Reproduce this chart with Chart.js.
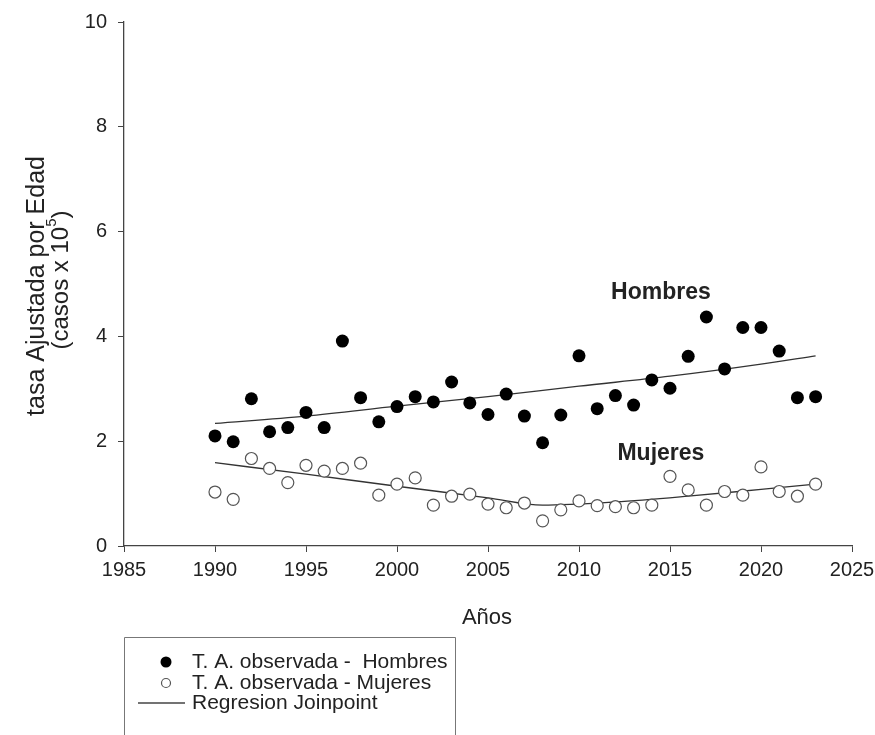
<!DOCTYPE html>
<html>
<head>
<meta charset="utf-8">
<script src="https://cdn.jsdelivr.net/npm/chart.js@4"></script>
<style>
  html, body { margin: 0; padding: 0; background: #fff; }
  #wrap { width: 875px; height: 735px; position: relative; }
</style>
</head>
<body>
<div id="wrap"><canvas id="chart" width="875" height="735"></canvas></div>
<script>
// observed age-adjusted rates, per year
const years = [1990, 1991, 1992, 1993, 1994, 1995, 1996, 1997, 1998, 1999,
  2000, 2001, 2002, 2003, 2004, 2005, 2006, 2007, 2008, 2009,
  2010, 2011, 2012, 2013, 2014, 2015, 2016, 2017, 2018, 2019,
  2020, 2021, 2022, 2023];
const hombres = [2.10, 1.99, 2.81, 2.18, 2.26, 2.55, 2.26, 3.91, 2.83, 2.37,
  2.66, 2.85, 2.75, 3.13, 2.73, 2.51, 2.90, 2.48, 1.97, 2.50,
  3.63, 2.62, 2.87, 2.69, 3.17, 3.01, 3.62, 4.37, 3.38, 4.17,
  4.17, 3.72, 2.83, 2.85];
const mujeres = [1.03, 0.89, 1.67, 1.48, 1.21, 1.54, 1.43, 1.48, 1.58, 0.97,
  1.18, 1.30, 0.78, 0.95, 0.99, 0.80, 0.73, 0.82, 0.48, 0.69,
  0.86, 0.77, 0.75, 0.73, 0.78, 1.33, 1.07, 0.78, 1.04, 0.97,
  1.51, 1.04, 0.95, 1.18];

// joinpoint regression curves
const regHombresYears = [1990, 1995, 2000, 2005, 2010, 2015, 2020, 2023];
const regHombres = [2.34, 2.48, 2.67, 2.85, 3.05, 3.24, 3.47, 3.63];
const regMujeresYears = [1990, 1995, 2000, 2005, 2008, 2012, 2016, 2020, 2023];
const regMujeres = [1.59, 1.37, 1.14, 0.92, 0.78, 0.84, 0.95, 1.08, 1.18];

const xTicks = [1985, 1990, 1995, 2000, 2005, 2010, 2015, 2020, 2025];
const yTicks = [0, 2, 4, 6, 8, 10];

const legendItems = [
  "T. A. observada -  Hombres",
  "T. A. observada - Mujeres",
  "Regresion Joinpoint",
];

const FONT = "'Liberation Sans', Arial, sans-serif";
const INK = "#222";

function toPoints(xs, ys) {
  return xs.map((x, i) => ({ x: x, y: ys[i] }));
}

// Draws axis titles, series labels and the legend box
const decorations = {
  id: "decorations",
  afterDraw(chart) {
    const ctx = chart.ctx;
    const area = chart.chartArea;
    const xs = chart.scales.x;
    const ys = chart.scales.y;
    ctx.save();
    ctx.fillStyle = INK;

    // y axis title, two rotated lines
    ctx.save();
    ctx.translate(37, 286);
    ctx.rotate(-Math.PI / 2);
    ctx.textAlign = "center";
    ctx.textBaseline = "middle";
    ctx.font = "25px " + FONT;
    ctx.fillText("tasa Ajustada por Edad", 0, 0);
    // second line with superscript
    const base = "(casos x 10";
    const sup = "5";
    const close = ")";
    ctx.font = "24px " + FONT;
    const wBase = ctx.measureText(base).width;
    const wClose = ctx.measureText(close).width;
    ctx.font = "15px " + FONT;
    const wSup = ctx.measureText(sup).width;
    const total = wBase + wSup + wClose;
    const x0 = -total / 2 + 6;
    ctx.textAlign = "left";
    ctx.font = "24px " + FONT;
    ctx.fillText(base, x0, 24);
    ctx.font = "15px " + FONT;
    ctx.fillText(sup, x0 + wBase, 15);
    ctx.font = "24px " + FONT;
    ctx.fillText(close, x0 + wBase + wSup, 24);
    ctx.restore();

    // x axis title
    ctx.textAlign = "center";
    ctx.textBaseline = "middle";
    ctx.font = "22px " + FONT;
    ctx.fillText("Años", 487, 618);

    // series labels
    ctx.font = "bold 23px " + FONT;
    ctx.fillText("Hombres", xs.getPixelForValue(2014.5), ys.getPixelForValue(4.83));
    ctx.fillText("Mujeres", xs.getPixelForValue(2014.5), ys.getPixelForValue(1.76));

    // legend box
    const bx = area.left, by = 637, bw = 331;
    ctx.strokeStyle = "#777";
    ctx.lineWidth = 1;
    ctx.beginPath();
    ctx.moveTo(bx + 0.5, chart.height);
    ctx.lineTo(bx + 0.5, by + 0.5);
    ctx.lineTo(bx + bw + 0.5, by + 0.5);
    ctx.lineTo(bx + bw + 0.5, chart.height);
    ctx.stroke();

    const rowY = [662, 683, 703];
    const mx = 166;
    // filled marker
    ctx.fillStyle = "#000";
    ctx.beginPath();
    ctx.arc(mx, rowY[0], 5.5, 0, Math.PI * 2);
    ctx.fill();
    // open marker
    ctx.fillStyle = "#fff";
    ctx.strokeStyle = "#555";
    ctx.lineWidth = 1.2;
    ctx.beginPath();
    ctx.arc(mx, rowY[1], 4.5, 0, Math.PI * 2);
    ctx.fill();
    ctx.stroke();
    // line sample
    ctx.strokeStyle = "#444";
    ctx.lineWidth = 1.3;
    ctx.beginPath();
    ctx.moveTo(138, rowY[2]);
    ctx.lineTo(185, rowY[2]);
    ctx.stroke();

    ctx.fillStyle = INK;
    ctx.textAlign = "left";
    ctx.font = "21px " + FONT;
    legendItems.forEach((t, i) => ctx.fillText(t, 192, rowY[i]));
    ctx.restore();
  },
};

const ctx = document.getElementById("chart").getContext("2d");

new Chart(ctx, {
  type: "scatter",
  data: {
    datasets: [
      {
        label: legendItems[0],
        data: toPoints(years, hombres),
        backgroundColor: "#000",
        borderColor: "#000",
        pointRadius: 6.5,
        pointBorderWidth: 0,
        order: 1,
      },
      {
        label: legendItems[1],
        data: toPoints(years, mujeres),
        backgroundColor: "#fff",
        borderColor: "#555",
        pointRadius: 6,
        pointBorderWidth: 1.2,
        order: 2,
      },
      {
        label: "Regresion Hombres",
        data: toPoints(regHombresYears, regHombres),
        showLine: true,
        borderColor: "#333",
        borderWidth: 1.3,
        pointRadius: 0,
        cubicInterpolationMode: "monotone",
        order: 3,
      },
      {
        label: "Regresion Mujeres",
        data: toPoints(regMujeresYears, regMujeres),
        showLine: true,
        borderColor: "#333",
        borderWidth: 1.3,
        pointRadius: 0,
        cubicInterpolationMode: "monotone",
        order: 4,
      },
    ],
  },
  options: {
    responsive: false,
    animation: false,
    layout: { padding: { top: 22, right: 23, left: 0, bottom: 0 } },
    plugins: {
      legend: { display: false },
      tooltip: { enabled: false },
    },
    scales: {
      x: {
        type: "linear",
        min: xTicks[0],
        max: xTicks[xTicks.length - 1],
        afterBuildTicks: (s) => { s.ticks = xTicks.map((v) => ({ value: v })); },
        afterFit: (s) => { s.height = 189; s.paddingLeft = 0; s.paddingRight = 0; },
        border: { display: true, color: "#444", width: 1.3 },
        grid: { drawOnChartArea: false, drawTicks: true, tickLength: 6, color: "#444" },
        ticks: {
          color: INK,
          font: { family: FONT, size: 20 },
          padding: 6,
          maxRotation: 0,
          callback: (v) => String(v),
        },
      },
      y: {
        type: "linear",
        min: yTicks[0],
        max: yTicks[yTicks.length - 1],
        afterBuildTicks: (s) => { s.ticks = yTicks.map((v) => ({ value: v })); },
        afterFit: (s) => { s.width = 124; s.paddingTop = 0; s.paddingBottom = 0; },
        border: { display: true, color: "#444", width: 1.3 },
        grid: { drawOnChartArea: false, drawTicks: true, tickLength: 6, color: "#444" },
        ticks: {
          color: INK,
          font: { family: FONT, size: 20 },
          padding: 11,
          callback: (v) => String(v),
        },
      },
    },
  },
  plugins: [decorations],
});
</script>
</body>
</html>
